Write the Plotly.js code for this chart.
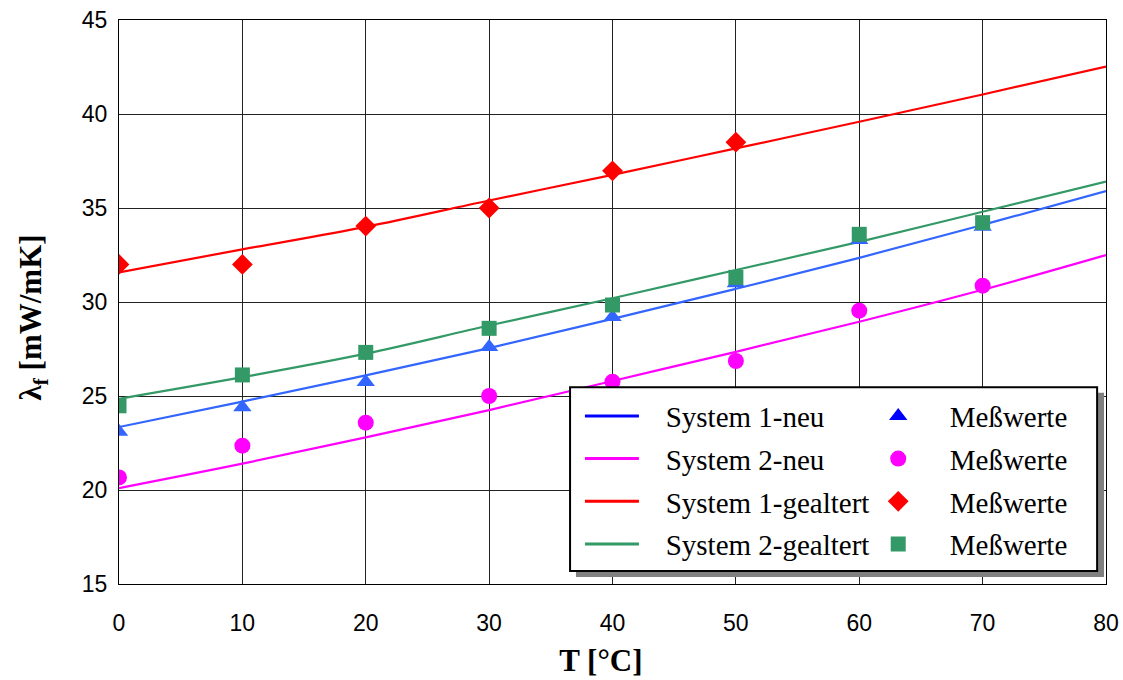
<!DOCTYPE html>
<html>
<head>
<meta charset="utf-8">
<script src="https://cdn.plot.ly/plotly-3.0.1.min.js"></script>
<style>html,body{margin:0;padding:0;background:#fff;}#chart{width:1123px;height:680px;}</style>
</head>
<body>
<div id="chart"></div>
<script>
// Temperature grid for fitted curves
const T_fit = [0, 10, 20, 30, 40, 50, 60, 70, 80];
const fit_s1_neu = [23.35, 24.7, 26.1, 27.55, 29.1, 30.7, 32.35, 34.1, 35.9];
const fit_s2_neu = [20.1, 21.4, 22.8, 24.25, 25.8, 27.35, 28.95, 30.65, 32.5];
const fit_s1_alt = [31.58, 32.8, 34.0, 35.4, 36.76, 38.17, 39.59, 41.04, 42.52];
const fit_s2_alt = [24.85, 26.0, 27.25, 28.75, 30.2, 31.7, 33.2, 34.8, 36.4];

// Measured values
const T_meas = [0, 10, 20, 30, 40, 50, 60, 70];
const meas_s1_neu = [23.1, 24.4, 25.75, 27.6, 29.2, 31.0, 33.3, 34.0];
const meas_s2_neu = [20.67, 22.36, 23.58, 25.0, 25.76, 26.86, 29.54, 30.87];
const T_meas_s1_alt = [0, 10, 20, 30, 40, 50];
const meas_s1_alt = [32.0, 32.0, 34.04, 35.0, 36.98, 38.5];
const meas_s2_alt = [24.48, 26.12, 27.32, 28.6, 29.84, 31.31, 33.6, 34.22];

const seriesNames = ['System 1-neu', 'System 2-neu', 'System 1-gealtert', 'System 2-gealtert'];
const measName = 'Meßwerte';

const xTicks = [0, 10, 20, 30, 40, 50, 60, 70, 80];
const yTicks = [15, 20, 25, 30, 35, 40, 45];

const plotColors = ['#3366FF', '#FF00FF', '#FF0000', '#339966'];
const legendColors = ['#0000FF', '#FF00FF', '#FF0000', '#339966'];
const symbols = ['triangle-up', 'circle', 'diamond', 'square'];
const msizes = [16, 16, 16, 15];

const fits = [fit_s1_neu, fit_s2_neu, fit_s1_alt, fit_s2_alt];
const measX = [T_meas, T_meas, T_meas_s1_alt, T_meas];
const measY = [meas_s1_neu, meas_s2_neu, meas_s1_alt, meas_s2_alt];

const NB = '\u00A0';
const traces = [];
// fitted lines
for (let i = 0; i < 4; i++) {
  traces.push({x: T_fit, y: fits[i], mode: 'lines', line: {color: plotColors[i], width: 2.2, shape: 'spline'}, showlegend: false, hoverinfo: 'skip'});
}
// measured markers (triangles first so squares cover them)
for (let i = 0; i < 4; i++) {
  traces.push({x: measX[i], y: measY[i], mode: 'markers', marker: {symbol: symbols[i], size: msizes[i], color: plotColors[i]}, showlegend: false});
}
// legend entries: lines
for (let i = 0; i < 4; i++) {
  traces.push({x: [null], y: [null], mode: 'lines', name: NB.repeat(3) + seriesNames[i], legendgroup: 'l' + i,
    line: {color: legendColors[i], width: 3}, legend: 'legend'});
}
// legend entries: markers
for (let i = 0; i < 4; i++) {
  traces.push({x: [null], y: [null], mode: 'markers', name: NB.repeat(2) + measName, legendgroup: 'm' + i,
    marker: {symbol: symbols[i], size: msizes[i], color: legendColors[i]}, legend: 'legend2'});
}

const legFont = {family: '"Liberation Serif", "Times New Roman", serif', size: 29, color: '#000'};

const layout = {
  width: 1123, height: 680,
  margin: {l: 119, r: 17, t: 20, b: 96},
  paper_bgcolor: '#fff', plot_bgcolor: '#fff',
  showlegend: true,
  font: {family: '"Liberation Sans", Arial, sans-serif', color: '#000'},
  xaxis: {
    range: [0, 80], tickvals: xTicks, ticktext: xTicks.map(String),
    showgrid: true, gridcolor: '#222', gridwidth: 1,
    showline: true, linecolor: '#000', linewidth: 1, mirror: true,
    zeroline: false, ticks: '', ticklabelstandoff: 18,
    tickfont: {size: 23, color: '#000'},
    title: {text: '<b>T [°C]' + NB.repeat(3) + '</b>', font: {family: '"Liberation Serif", "Times New Roman", serif', size: 31, color: '#000'}, standoff: 14}
  },
  yaxis: {
    range: [15, 45], tickvals: yTicks, ticktext: yTicks.map(String),
    showgrid: true, gridcolor: '#222', gridwidth: 1,
    showline: true, linecolor: '#000', linewidth: 1, mirror: true,
    zeroline: false, ticks: '', ticklabelstandoff: 6,
    tickfont: {size: 23, color: '#000'},
    title: {text: '<b>λ<sub>f</sub> [mW/mK]' + NB.repeat(4) + '</b>', font: {family: '"Liberation Serif", "Times New Roman", serif', size: 31, color: '#000'}, standoff: 30}
  },
  legend: {
    x: 0.467, y: 0.343, xanchor: 'left', yanchor: 'top',
    bgcolor: 'rgba(0,0,0,0)', borderwidth: 0, font: legFont,
    itemwidth: 54, tracegroupgap: 2
  },
  legend2: {
    x: 0.752, y: 0.343, xanchor: 'left', yanchor: 'top',
    bgcolor: 'rgba(0,0,0,0)', borderwidth: 0, font: legFont,
    itemwidth: 64, tracegroupgap: 2
  },
  shapes: [
    {type: 'rect', xref: 'paper', yref: 'paper', x0: 0.463, x1: 0.998, y0: 0.0124, y1: 0.339, fillcolor: '#808080', line: {width: 0}, layer: 'above'},
    {type: 'rect', xref: 'paper', yref: 'paper', x0: 0.457, x1: 0.991, y0: 0.023, y1: 0.349, fillcolor: '#ffffff', line: {color: '#000', width: 2}, layer: 'above'}
  ]
};

Plotly.newPlot('chart', traces, layout, {displayModeBar: false, staticPlot: true});
</script>
</body>
</html>
